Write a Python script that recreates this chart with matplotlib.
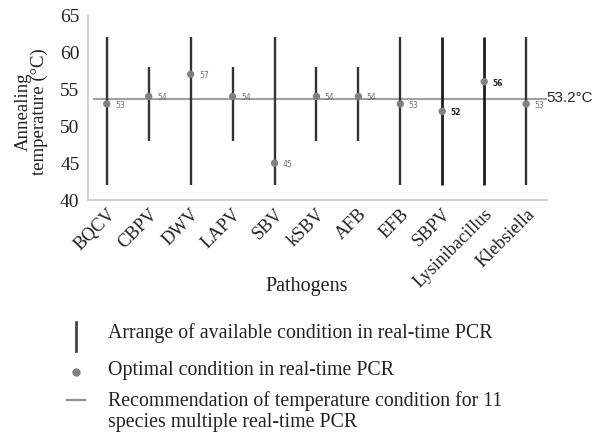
import matplotlib
matplotlib.use("Agg")
import matplotlib.pyplot as plt
from matplotlib.lines import Line2D

pathogens = ["BQCV", "CBPV", "DWV", "LAPV", "SBV", "kSBV", "AFB", "EFB",
             "SBPV", "Lysinibacillus", "Klebsiella"]
range_low = [42, 48, 42, 48, 42, 48, 48, 42, 42, 42, 42]
range_high = [62, 58, 62, 58, 62, 58, 58, 62, 62, 62, 62]
optimal = [53, 54, 57, 54, 45, 54, 54, 53, 52, 56, 53]
rec_line = 53.7
rec_label = "53.2°C"

serif = ["Liberation Serif", "DejaVu Serif"]
sans = ["DejaVu Sans"]

fig = plt.figure(figsize=(5.94, 4.33), dpi=100)
ax = fig.add_axes([0.148, 0.538, 0.773, 0.427])

x = list(range(len(pathogens)))
bold_idx = {8, 9}
for i in x:
    lw = 2.0 if i in bold_idx else 1.7
    col = "#1e1e1e" if i in bold_idx else "#333333"
    ax.vlines(i, range_low[i], range_high[i], color=col, linewidth=lw, zorder=2)

ax.hlines(rec_line, -0.33, 10.5, color="#a0a0a0", linewidth=1.5, zorder=1)
ax.scatter(x, optimal, s=28, color="#808080", zorder=3, edgecolors="none")

for i in x:
    strong = i in bold_idx
    ax.annotate(str(optimal[i]), (i, optimal[i]), xytext=(6, -1),
                textcoords="offset points", ha="left", va="center",
                fontsize=5.5, family=sans,
                color="#222222" if strong else "#707070",
                fontweight="bold" if strong else "normal")

ax.text(10.49, rec_line + 0.1, rec_label, ha="left", va="center", fontsize=11,
        family=["Liberation Sans", "DejaVu Sans"], color="#222222")

ax.set_xlim(-0.45, 10.5)
ax.set_ylim(40, 65)
ax.set_yticks([40, 45, 50, 55, 60, 65])
ax.set_xticks(x)
ax.set_xticklabels(pathogens, rotation=45, ha="right", rotation_mode="anchor",
                   family=serif, fontsize=13.2)
for lab in ax.get_yticklabels():
    lab.set_family(serif)
    lab.set_fontsize(14)
ax.tick_params(axis="both", length=0, pad=4, colors="#222222")
ax.tick_params(axis="y", pad=6)

for s in ["top", "right"]:
    ax.spines[s].set_visible(False)
for s in ["left", "bottom"]:
    ax.spines[s].set_color("#c8c8c8")
    ax.spines[s].set_linewidth(1.2)

ax.set_ylabel("Annealing\ntemperature (°C)", family=serif, fontsize=13.5,
              color="#222222", linespacing=0.9)
ax.yaxis.set_label_coords(-0.088, 0.48)
fig.text(307 / 594, 1 - 287 / 433, "Pathogens", family=serif, fontsize=14.5,
         ha="center", va="center", color="#222222")

# Legend
tcol = "#222222"
lfs = 14.3
tx = 108 / 594
mx = 76 / 594
fig.add_artist(Line2D([mx, mx], [1 - 322 / 433, 1 - 351 / 433],
                      color="#444444", linewidth=2.0))
fig.text(tx, 1 - 333 / 433, "Arrange of available condition in real-time PCR",
         family=serif, fontsize=lfs, ha="left", va="center", color=tcol)
fig.add_artist(Line2D([mx], [1 - 372 / 433], marker="o", markersize=5,
                      color="#808080", linestyle="none"))
fig.text(tx, 1 - 371 / 433, "Optimal condition in real-time PCR",
         family=serif, fontsize=lfs, ha="left", va="center", color=tcol)
fig.add_artist(Line2D([67 / 594, 85 / 594], [1 - 400 / 433, 1 - 400 / 433],
                      color="#909090", linewidth=1.6))
fig.text(tx, 1 - 401 / 433, "Recommendation of temperature condition for 11",
         family=serif, fontsize=lfs, ha="left", va="center", color=tcol)
fig.text(tx, 1 - 423 / 433, "species multiple real-time PCR",
         family=serif, fontsize=lfs, ha="left", va="center", color=tcol)

fig.savefig("out.png", dpi=100)
